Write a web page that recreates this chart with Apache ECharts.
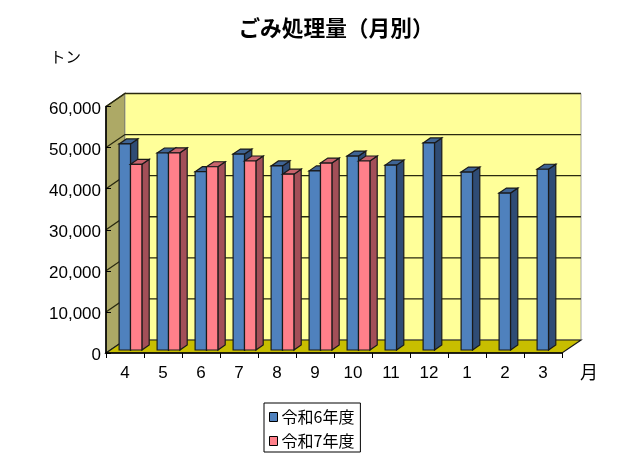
<!DOCTYPE html>
<html><head><meta charset="utf-8">
<style>html,body{margin:0;padding:0;background:#fff}#c{width:638px;height:463px}</style>
<script src="https://cdn.jsdelivr.net/npm/echarts@6/dist/echarts.min.js"></script>
</head><body><div id="c"></div>
<script>
const months = ['4','5','6','7','8','9','10','11','12','1','2','3'];
const r6 = [50150,47950,43400,47700,44800,43600,47200,45000,50400,43300,38200,44000];
const r7 = [45200,48000,44600,46000,42800,45500,46000];
const yTicks = [0,10000,20000,30000,40000,50000,60000];
const DX = 19, DY = 13;
const BX = 5.5, BY = 3, BD = 7.3, BH = 5;

function shade(pts, fill, stroke, w){
  return {type:'polygon', shape:{points:pts}, style:{fill, stroke:stroke||'#1a1a1a', lineWidth:w==null?1.2:w}};
}
function wall(params, api){
  const c = params.coordSys;
  const L=c.x, R=c.x+c.width, T=c.y, B=c.y+c.height;
  const kids = [
    shade([[L,T],[L+DX,T-DY],[L+DX,B-DY],[L,B]], '#ADA966', '#3a3a20', 1.2),
    {type:'rect', shape:{x:L+DX,y:T-DY,width:c.width,height:c.height}, style:{fill:'#FFFF99', stroke:'#a8a8a0', lineWidth:1}},
    shade([[L,B],[L+DX,B-DY],[R+DX,B-DY],[R,B]], '#C8BE00', '#1a1a1a', 1.2),
  ];
  yTicks.slice(1).forEach(t=>{
    const y = api.coord([0,t])[1];
    kids.push({type:'polyline', shape:{points:[[L,y],[L+DX,y-DY],[R+DX,y-DY]]}, style:{stroke:'#2a2a10', lineWidth:1.3, fill:null}});
  });
  return {type:'group', children:kids};
}
function bar(offset, front, top, side){
  return function(params, api){
    const p = api.coord([api.value(0), api.value(1)]);
    const base = api.coord([api.value(0), 0]);
    const w = api.size([1,0])[0]*0.3;
    const x0 = p[0]+BX-w+offset*w, x1 = x0+w;
    const y0 = p[1]-BY, y1 = base[1]-BY;
    return {type:'group', children:[
      shade([[x1,y0],[x1+BD,y0-BH],[x1+BD,y1-BH],[x1,y1]], side),
      shade([[x0,y0],[x0+BD,y0-BH],[x1+BD,y0-BH],[x1,y0]], top),
      {type:'rect', shape:{x:x0,y:y0,width:w,height:y1-y0}, style:{fill:front, stroke:'#1a1a1a', lineWidth:1.2}}
    ]};
  };
}
const toData = a => a.map((v,i)=>[months[i],v]);
const chart = echarts.init(document.getElementById('c'));
chart.setOption({
  animation:false,
  backgroundColor:'#fff',
  title:{text:'ごみ処理量（月別）', left:331, top:12, textAlign:'center',
    textStyle:{fontFamily:'Noto Sans CJK JP', fontWeight:'bold', fontSize:21.7, color:'#000'}},
  grid:{left:106, right:76, top:106.5, bottom:110},
  xAxis:{type:'category', data:months, z:10,
    name:'月', nameLocation:'end', nameGap:18,
    nameTextStyle:{fontFamily:'Noto Sans CJK JP', fontSize:18, color:'#000', verticalAlign:'top', padding:[10,0,0,0]},
    axisLine:{lineStyle:{color:'#000', width:1.5}},
    axisTick:{show:true, length:5, lineStyle:{color:'#000'}},
    axisLabel:{fontFamily:'Liberation Sans', fontSize:17, color:'#000', margin:12},
    splitLine:{show:false}},
  yAxis:{type:'value', min:0, max:60000, interval:10000, z:10,
    axisLine:{show:true, lineStyle:{color:'#000', width:1.5}},
    axisTick:{show:true, inside:true, length:5, lineStyle:{color:'#000'}},
    axisLabel:{fontFamily:'Liberation Sans', fontSize:17, color:'#000', margin:5, verticalAlign:'top', padding:[-6,0,0,0],
      formatter:v=>v.toLocaleString('en-US')},
    splitLine:{show:false}},
  legend:{data:['令和6年度','令和7年度'], orient:'vertical', left:264, top:403,
    padding:[6,6,3,5], itemGap:8, itemWidth:8, itemHeight:9, icon:'rect',
    borderColor:'#000', borderWidth:1, backgroundColor:'#fff',
    itemStyle:{borderColor:'#000', borderWidth:1},
    textStyle:{fontFamily:'Noto Sans CJK JP', fontSize:16, color:'#000', padding:[0,0,0,-1]}},
  graphic:[{type:'text', left:50, top:49, style:{text:'トン', font:'15.5px "Noto Sans CJK JP"', fill:'#000'}}],
  series:[
    {type:'custom', name:'_wall', data:[[months[0],0]], renderItem:wall, silent:true, z:1, clip:false, encode:{x:0,y:1}},
    {type:'custom', name:'令和6年度', data:toData(r6), renderItem:bar(0,'#4F81BD','#3F6494','#2F4C75'), z:2, clip:false, encode:{x:0,y:1}, itemStyle:{color:'#4F81BD'}},
    {type:'custom', name:'令和7年度', data:toData(r7), renderItem:bar(1,'#FF808A','#C8646C','#A34F58'), z:3, clip:false, encode:{x:0,y:1}, itemStyle:{color:'#FF808A'}}
  ]
});
</script></body></html>
